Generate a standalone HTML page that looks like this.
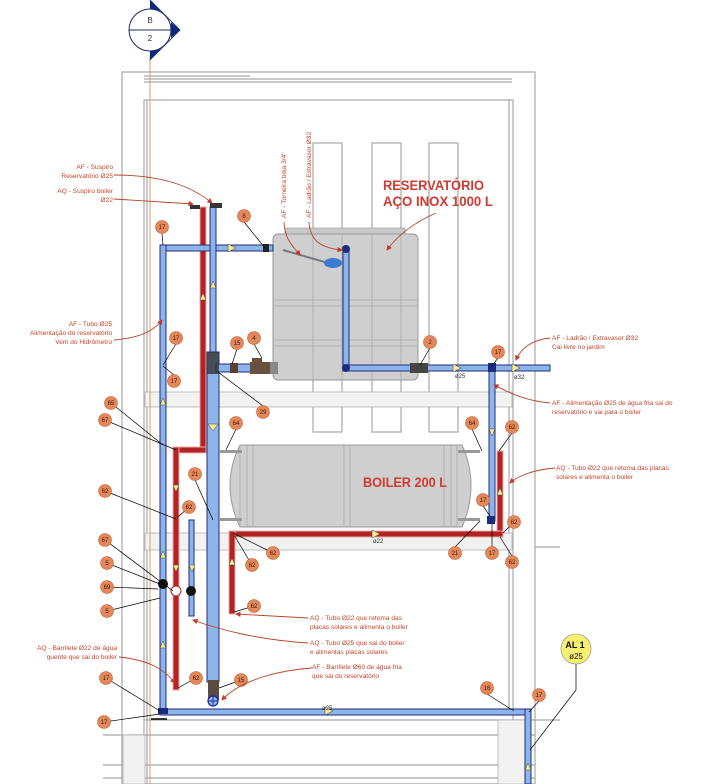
<!DOCTYPE html>
<html><head><meta charset="utf-8"><style>
html,body{margin:0;padding:0;background:#fff;}
svg{display:block;}
.l{font-family:"Liberation Sans",sans-serif;font-size:6.6px;fill:#c4452b;}
.t{font-family:"Liberation Sans",sans-serif;font-size:6px;fill:#3a1a0a;text-anchor:middle;}
.g{stroke:#a8a8a8;fill:none;stroke-width:1.2;}
.bp{fill:#8fb4ea;stroke:#1c2c7c;stroke-width:1;}
.rp{fill:#b02424;stroke:#f0a8a8;stroke-width:1;}
.ld{stroke:#b5452b;fill:none;stroke-width:0.9;}
.k{stroke:#000;stroke-width:0.7;fill:none;}
</style></head><body>
<svg width="703" height="784" viewBox="0 0 703 784" xmlns="http://www.w3.org/2000/svg">
<defs>
<marker id="a" markerWidth="6" markerHeight="6" refX="5" refY="3" orient="auto"><path d="M0,0 L6,3 L0,6 z" fill="#c0392b"/></marker>
</defs>
<!-- structure -->
<rect x="122" y="72" width="413" height="712" class="g"/>
<line x1="144" y1="79" x2="512" y2="79" class="g"/>
<line x1="144" y1="82" x2="512" y2="82" class="g"/>
<line x1="144" y1="76" x2="250" y2="76" class="g"/>
<rect x="144" y="100" width="369" height="684" class="g"/>
<line x1="147" y1="100" x2="147" y2="784" class="g"/>
<line x1="509" y1="100" x2="509" y2="712" class="g"/>
<!-- columns -->
<rect x="313" y="143" width="29" height="289" class="g" stroke-width="1"/>
<rect x="372" y="143" width="29" height="289" class="g" stroke-width="1"/>
<rect x="429" y="143" width="29" height="289" class="g" stroke-width="1"/>
<!-- slabs -->
<rect x="145" y="392" width="367" height="15" fill="#f2f2f2" stroke="#b0b0b0" stroke-width="0.8"/>
<rect x="145" y="533" width="367" height="17" fill="#f2f2f2" stroke="#b0b0b0" stroke-width="0.8"/>
<line x1="145" y1="720" x2="535" y2="720" class="g"/>
<line x1="103" y1="735" x2="535" y2="735" class="g"/>
<line x1="103" y1="765" x2="535" y2="765" class="g"/>
<line x1="103" y1="778" x2="535" y2="778" class="g"/>
<rect x="498" y="720" width="30" height="64" fill="#f2f2f2" stroke="#b0b0b0" stroke-width="0.8"/>
<rect x="123" y="735" width="22" height="49" fill="#f2f2f2" stroke="#b0b0b0" stroke-width="0.8"/>
<line x1="535" y1="547" x2="560" y2="547" class="g"/>
<line x1="535" y1="720" x2="560" y2="720" class="g"/>
<!-- orange grid line -->
<line x1="150" y1="55" x2="150" y2="784" stroke="#d6a060" stroke-width="1"/>
<!-- section marker -->
<path d="M150,0 L180,30 L150,60" fill="none" stroke="#1c2c5c" stroke-width="0.8"/>
<circle cx="150" cy="30" r="21" fill="#fff" stroke="#1c2c5c" stroke-width="1"/>
<line x1="129" y1="30" x2="171" y2="30" stroke="#1c2c5c"/>
<path d="M150,0 L161,11 L150,9z" fill="#0a2a80"/>
<path d="M180,30 L171,22 L171,38z" fill="#0a2a80"/>
<path d="M150,60 L161,49 L150,51z" fill="#0a2a80"/>
<text x="150" y="23" font-family="Liberation Sans" font-size="8" text-anchor="middle" fill="#333">B</text>
<text x="150" y="41" font-family="Liberation Sans" font-size="8" text-anchor="middle" fill="#333">2</text>
<!-- tank -->
<rect x="285" y="228" width="120" height="6" fill="#c8c8c8" stroke="#999" stroke-width="0.6"/>
<rect x="273" y="234" width="145" height="146" rx="5" fill="#cfcfcf" stroke="#9a9a9a"/>
<path d="M273,300 h145 M273,306 h145 M273,340 h145 M273,346 h145" stroke="#aaa" stroke-width="0.8"/>
<line x1="313" y1="234" x2="313" y2="380" stroke="#aaa" stroke-width="0.8"/>
<line x1="342" y1="234" x2="342" y2="380" stroke="#aaa" stroke-width="0.8"/>
<line x1="372" y1="234" x2="372" y2="380" stroke="#aaa" stroke-width="0.8"/>
<line x1="401" y1="234" x2="401" y2="380" stroke="#aaa" stroke-width="0.8"/>
<!-- boiler -->
<path d="M240,445 L462,445 Q480,485 462,527 L240,527 Q220,485 240,445z" fill="#cfcfcf" stroke="#9a9a9a"/>
<path d="M240,445v82 M247,445v82 M253,445v82 M344,445v82 M350,445v82 M444,445v82 M451,445v82 M457,445v82" stroke="#aaa" stroke-width="0.8"/>
<rect x="220" y="450" width="22" height="3" fill="#999"/>
<rect x="220" y="518" width="22" height="3" fill="#999"/>
<rect x="458" y="450" width="22" height="3" fill="#999"/>
<rect x="458" y="518" width="22" height="3" fill="#999"/>
<!-- RED PIPES -->
<rect x="200" y="207" width="6" height="244" class="rp"/>
<rect x="174" y="447" width="32" height="6" class="rp"/>
<rect x="173" y="447" width="6" height="243" class="rp"/>
<rect x="497" y="451" width="6" height="86" class="rp"/>
<rect x="229" y="531" width="274" height="6" class="rp"/>
<rect x="229" y="531" width="6" height="83" class="rp"/>
<!-- BLUE PIPES -->
<rect x="160" y="245" width="113" height="6" class="bp"/>
<rect x="160" y="245" width="6" height="470" class="bp"/>
<rect x="210" y="207" width="6" height="148" class="bp"/>
<rect x="207" y="352" width="12" height="330" class="bp"/>
<rect x="216" y="364" width="58" height="8" class="bp"/>
<rect x="343" y="248" width="6" height="122" class="bp"/>
<rect x="343" y="365" width="207" height="6" class="bp"/>
<rect x="489" y="367" width="6" height="154" class="bp"/>
<rect x="189" y="520" width="5" height="96" class="bp"/>
<rect x="160" y="709" width="371" height="6" class="bp"/>
<rect x="525" y="709" width="6" height="75" class="bp"/>
<!-- fittings -->
<rect x="207" y="352" width="12" height="22" fill="#333" opacity="0.8"/>
<rect x="230" y="363" width="8" height="10" fill="#5a4030"/>
<rect x="250" y="362" width="20" height="12" fill="#6a5040"/>
<rect x="252" y="358" width="10" height="4" fill="#6a5040"/>
<rect x="270" y="362" width="8" height="12" fill="#888"/>
<rect x="208" y="680" width="11" height="20" fill="#5a4a40"/>
<circle cx="213" cy="701" r="5" fill="#8fb4ea" stroke="#1c2c9c" stroke-width="1.2"/>
<path d="M208,701h10M213,696v10" stroke="#1c2c9c"/>
<circle cx="346" cy="249" r="4" fill="#1c2c7c"/>
<circle cx="346" cy="368" r="4" fill="#1c2c7c"/>
<rect x="263" y="244" width="6" height="8" fill="#222"/>
<line x1="283" y1="250" x2="335" y2="265" stroke="#778" stroke-width="2"/>
<ellipse cx="333" cy="263" rx="9" ry="5" fill="#3a7ad0"/>
<rect x="410" y="363" width="18" height="10" fill="#444"/>
<circle cx="163" cy="584" r="5" fill="#111"/>
<circle cx="176" cy="591" r="5" fill="#fff" stroke="#b02424"/>
<circle cx="191" cy="591" r="5" fill="#111"/>
<rect x="158" y="708" width="10" height="6" fill="#1c2c7c"/>
<line x1="151" y1="719" x2="167" y2="719" stroke="#000" stroke-width="1.5"/>
<rect x="487" y="516" width="8" height="8" fill="#1c2c7c"/>
<rect x="488" y="363" width="8" height="9" fill="#1c2c7c"/>
<path d="M190,205 h10 v4 h-10z M210,203 h12 v5 h-12z" fill="#333"/>
<!-- flow arrows -->
<g fill="#f4ec90" stroke="#444" stroke-width="0.5">
<path d="M228,244 l8,4 l-8,4z"/><path d="M200,300 l3,-7 l3,7z"/><path d="M210,288 l3,-7 l3,7z"/>
<path d="M160,405 l3,-7 l3,7z"/><path d="M208,424 l5,7 l5,-7z"/><path d="M173,485 l3,7 l3,-7z"/>
<path d="M160,558 l3,-7 l3,7z"/><path d="M173,565 l3,7 l3,-7z"/><path d="M189,565 l3,7 l3,-7z"/>
<path d="M229,565 l3,-7 l3,7z"/><path d="M160,648 l3,-7 l3,7z"/><path d="M453,364 l8,4 l-8,4z"/>
<path d="M512,364 l8,4 l-8,4z"/><path d="M489,429 l3,7 l3,-7z"/><path d="M497,495 l3,-7 l3,7z"/>
<path d="M372,530 l8,4 l-8,4z"/><path d="M325,707 l8,4 l-8,4z"/><path d="M525,770 l3,-7 l3,7z"/>
</g>
<g font-family="Liberation Sans" font-size="6" fill="#333">
<text x="455" y="378">ø25</text><text x="514" y="379">ø32</text><text x="373" y="543">ø22</text><text x="322" y="710">ø25</text>
</g>
<!-- tag leaders -->
<g class="k">
<path d="M162,233 L163,245"/><path d="M244,222 L265,248"/><path d="M237,349 L232,364"/><path d="M254,344 L262,358"/>
<path d="M176,344 L163,365"/><path d="M174,375 L163,366"/><path d="M263,406 L218,372"/>
<path d="M111,403 L163,445"/><path d="M105,420 L176,450"/><path d="M236,429 L226,450"/>
<path d="M195,480 L213,520"/><path d="M105,491 L176,519"/><path d="M189,507 L178,517"/>
<path d="M273,553 L233,533"/><path d="M252,565 L234,535"/>
<path d="M105,540 L173,591"/><path d="M107,563 L160,584"/><path d="M107,587 L158,589"/><path d="M107,611 L160,598"/>
<path d="M254,606 L234,612"/><path d="M106,678 L160,711"/><path d="M104,722 L160,714"/><path d="M196,678 L178,688"/><path d="M241,680 L219,688"/>
<path d="M430,348 L420,365"/><path d="M498,358 L491,367"/><path d="M472,429 L482,451"/><path d="M512,433 L499,451"/>
<path d="M483,506 L490,516"/><path d="M514,522 L503,533"/><path d="M455,547 L480,521"/><path d="M492,547 L492,524"/><path d="M512,556 L500,537"/>
<path d="M487,694 L514,711"/><path d="M539,701 L529,712"/><path d="M576,664 L576,690 L530,750"/>
</g>
<!-- tags -->
<g fill="#e4875a" stroke="#c06030" stroke-width="0.6">
<circle cx="162" cy="227" r="6.5"/><circle cx="244" cy="216" r="6.5"/><circle cx="237" cy="343" r="6.5"/><circle cx="254" cy="338" r="6.5"/>
<circle cx="176" cy="338" r="6.5"/><circle cx="174" cy="381" r="6.5"/><circle cx="263" cy="412" r="6.5"/><circle cx="111" cy="403" r="6.5"/>
<circle cx="105" cy="420" r="6.5"/><circle cx="236" cy="423" r="6.5"/><circle cx="195" cy="474" r="6.5"/><circle cx="105" cy="491" r="6.5"/>
<circle cx="189" cy="507" r="6.5"/><circle cx="273" cy="553" r="6.5"/><circle cx="252" cy="565" r="6.5"/><circle cx="105" cy="540" r="6.5"/>
<circle cx="107" cy="563" r="6.5"/><circle cx="107" cy="587" r="6.5"/><circle cx="107" cy="611" r="6.5"/><circle cx="254" cy="606" r="6.5"/>
<circle cx="106" cy="678" r="6.5"/><circle cx="104" cy="722" r="6.5"/><circle cx="196" cy="678" r="6.5"/><circle cx="241" cy="680" r="6.5"/>
<circle cx="430" cy="342" r="6.5"/><circle cx="498" cy="352" r="6.5"/><circle cx="472" cy="423" r="6.5"/><circle cx="512" cy="427" r="6.5"/>
<circle cx="483" cy="500" r="6.5"/><circle cx="514" cy="522" r="6.5"/><circle cx="455" cy="553" r="6.5"/><circle cx="492" cy="553" r="6.5"/>
<circle cx="512" cy="562" r="6.5"/><circle cx="487" cy="688" r="6.5"/><circle cx="539" cy="695" r="6.5"/>
</g>
<g class="t">
<text x="162" y="229">17</text><text x="244" y="218">8</text><text x="237" y="345">15</text><text x="254" y="340">4</text>
<text x="176" y="340">17</text><text x="174" y="383">17</text><text x="263" y="414">29</text><text x="111" y="405">65</text>
<text x="105" y="422">67</text><text x="236" y="425">64</text><text x="195" y="476">21</text><text x="105" y="493">62</text>
<text x="189" y="509">62</text><text x="273" y="555">62</text><text x="252" y="567">62</text><text x="105" y="542">67</text>
<text x="107" y="565">5</text><text x="107" y="589">69</text><text x="107" y="613">5</text><text x="254" y="608">62</text>
<text x="106" y="680">17</text><text x="104" y="724">17</text><text x="196" y="680">62</text><text x="241" y="682">15</text>
<text x="430" y="344">2</text><text x="498" y="354">17</text><text x="472" y="425">64</text><text x="512" y="429">62</text>
<text x="483" y="502">17</text><text x="514" y="524">62</text><text x="455" y="555">21</text><text x="492" y="555">17</text>
<text x="512" y="564">62</text><text x="487" y="690">16</text><text x="539" y="697">17</text>
</g>
<!-- AL 1 -->
<circle cx="576" cy="649" r="15" fill="#f6f070" stroke="#888" stroke-width="0.6"/>
<text x="575" y="648" font-family="Liberation Sans" font-size="9" font-weight="bold" text-anchor="middle" fill="#111">AL 1</text>
<text x="576" y="659" font-family="Liberation Sans" font-size="8" text-anchor="middle" fill="#111">ø25</text>
<!-- leader curves -->
<g class="ld">
<path d="M114,175 C160,175 190,185 212,203" marker-end="url(#a)"/>
<path d="M114,199 L193,204" marker-end="url(#a)"/>
<path d="M114,340 C140,338 155,330 162,320" marker-end="url(#a)"/>
<path d="M119,657 C150,660 165,670 175,683" marker-end="url(#a)"/>
<path d="M308,618 L236,614" marker-end="url(#a)"/>
<path d="M308,643 C260,640 220,630 193,620" marker-end="url(#a)"/>
<path d="M312,668 C280,670 240,680 222,700" marker-end="url(#a)"/>
<path d="M550,338 C530,340 520,350 516,360" marker-end="url(#a)"/>
<path d="M550,403 C520,400 505,390 494,385" marker-end="url(#a)"/>
<path d="M555,468 C530,470 515,478 510,483" marker-end="url(#a)"/>
<path d="M284,222 C285,240 292,245 300,255" marker-end="url(#a)"/>
<path d="M309,222 C310,240 320,248 342,250" marker-end="url(#a)"/>
<path d="M436,213 C420,220 400,232 387,250" marker-end="url(#a)"/>
</g>
<!-- labels -->
<g class="l" text-anchor="end">
<text x="113" y="169">AF - Suspiro</text><text x="113" y="178">Reservatório Ø25</text>
<text x="113" y="193">AQ - Suspiro boiler</text><text x="113" y="202">Ø22</text>
<text x="112" y="326">AF - Tubo Ø25</text><text x="112" y="335">Alimentação do reservatório</text><text x="112" y="344">Vem do Hidrômetro</text>
<text x="117" y="650">AQ - Barrilete Ø22 de água</text><text x="117" y="659">quente que sai do boiler</text>
</g>
<g class="l">
<text x="310" y="620">AQ - Tubo Ø22 que retoma das</text><text x="310" y="629">placas solares e alimenta o boiler</text>
<text x="310" y="645">AQ - Tubo Ø25 que sai do boiler</text><text x="310" y="654">e alimentas placas solares</text>
<text x="312" y="669">AF - Barrilete Ø60 de água fria</text><text x="312" y="678">que sai do reservatório</text>
<text x="552" y="340">AF - Ladrão / Extravasor  Ø32</text><text x="552" y="349">Cai livre no jardim</text>
<text x="552" y="405">AF - Alimentação Ø25 de água fria sai do</text><text x="552" y="414">reservatório e vai para o boiler</text>
<text x="556" y="470">AQ - Tubo Ø22 que retoma das placas</text><text x="556" y="479">solares e alimenta o boiler</text>
<text transform="translate(286,218) rotate(-90)">AF - Torneira bóia 3/4"</text>
<text transform="translate(311,218) rotate(-90)">AF - Ladrão / Extravasor  Ø32</text>
</g>
<g font-family="Liberation Sans" font-weight="bold" font-size="13.5" fill="#d03a30">
<text x="383" y="190" textLength="101" lengthAdjust="spacingAndGlyphs">RESERVATÓRIO</text>
<text x="383" y="206" textLength="110" lengthAdjust="spacingAndGlyphs">AÇO INOX 1000 L</text>
<text x="363" y="487" textLength="84" lengthAdjust="spacingAndGlyphs">BOILER 200 L</text>
</g>
</svg>
</body></html>
